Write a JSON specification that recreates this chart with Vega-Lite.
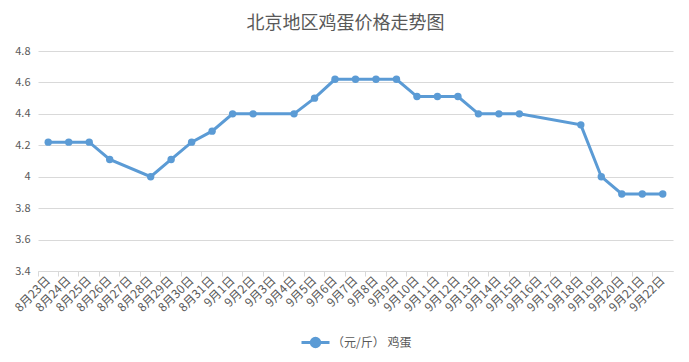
{
  "$schema": "https://vega.github.io/schema/vega-lite/v6.json",
  "width": 635,
  "height": 220,
  "autosize": {"type": "none"},
  "padding": {"left": 38, "top": 51, "right": 16, "bottom": 91},
  "background": "#ffffff",
  "config": {
    "view": {"stroke": null},
    "font": "Noto Sans CJK SC",
    "axis": {"labelColor": "#595959", "labelFont": "Noto Sans CJK SC", "labelFontSize": 11},
    "legend": {
      "labelColor": "#595959",
      "labelFont": "Noto Sans CJK SC",
      "labelFontSize": 12,
      "layout": {"bottom": {"anchor": "middle"}}
    }
  },
  "title": {
    "text": "北京地区鸡蛋价格走势图",
    "fontSize": 18,
    "fontWeight": "normal",
    "color": "#595959",
    "font": "Noto Sans CJK SC",
    "offset": 12,
    "dx": -10
  },
  "data": {
    "values": [
      {"date": "8月23日", "price": 4.22, "series": "（元/斤） 鸡蛋"},
      {"date": "8月24日", "price": 4.22, "series": "（元/斤） 鸡蛋"},
      {"date": "8月25日", "price": 4.22, "series": "（元/斤） 鸡蛋"},
      {"date": "8月26日", "price": 4.11, "series": "（元/斤） 鸡蛋"},
      {"date": "8月28日", "price": 4.00, "series": "（元/斤） 鸡蛋"},
      {"date": "8月29日", "price": 4.11, "series": "（元/斤） 鸡蛋"},
      {"date": "8月30日", "price": 4.22, "series": "（元/斤） 鸡蛋"},
      {"date": "8月31日", "price": 4.29, "series": "（元/斤） 鸡蛋"},
      {"date": "9月1日", "price": 4.40, "series": "（元/斤） 鸡蛋"},
      {"date": "9月2日", "price": 4.40, "series": "（元/斤） 鸡蛋"},
      {"date": "9月4日", "price": 4.40, "series": "（元/斤） 鸡蛋"},
      {"date": "9月5日", "price": 4.50, "series": "（元/斤） 鸡蛋"},
      {"date": "9月6日", "price": 4.62, "series": "（元/斤） 鸡蛋"},
      {"date": "9月7日", "price": 4.62, "series": "（元/斤） 鸡蛋"},
      {"date": "9月8日", "price": 4.62, "series": "（元/斤） 鸡蛋"},
      {"date": "9月9日", "price": 4.62, "series": "（元/斤） 鸡蛋"},
      {"date": "9月10日", "price": 4.51, "series": "（元/斤） 鸡蛋"},
      {"date": "9月11日", "price": 4.51, "series": "（元/斤） 鸡蛋"},
      {"date": "9月12日", "price": 4.51, "series": "（元/斤） 鸡蛋"},
      {"date": "9月13日", "price": 4.40, "series": "（元/斤） 鸡蛋"},
      {"date": "9月14日", "price": 4.40, "series": "（元/斤） 鸡蛋"},
      {"date": "9月15日", "price": 4.40, "series": "（元/斤） 鸡蛋"},
      {"date": "9月18日", "price": 4.33, "series": "（元/斤） 鸡蛋"},
      {"date": "9月19日", "price": 4.00, "series": "（元/斤） 鸡蛋"},
      {"date": "9月20日", "price": 3.89, "series": "（元/斤） 鸡蛋"},
      {"date": "9月21日", "price": 3.89, "series": "（元/斤） 鸡蛋"},
      {"date": "9月22日", "price": 3.89, "series": "（元/斤） 鸡蛋"}
    ]
  },
  "mark": {
    "type": "line",
    "strokeWidth": 3,
    "point": {"filled": true, "size": 55, "color": "#5B9BD5"}
  },
  "encoding": {
    "x": {
      "field": "date",
      "type": "ordinal",
      "sort": null,
      "scale": {
        "type": "band",
        "paddingInner": 0,
        "paddingOuter": 0,
        "domain": ["8月23日","8月24日","8月25日","8月26日","8月27日","8月28日","8月29日","8月30日","8月31日","9月1日","9月2日","9月3日","9月4日","9月5日","9月6日","9月7日","9月8日","9月9日","9月10日","9月11日","9月12日","9月13日","9月14日","9月15日","9月16日","9月17日","9月18日","9月19日","9月20日","9月21日","9月22日"]
      },
      "axis": {
        "title": null,
        "labelAngle": -45,
        "labelAlign": "right",
        "labelBaseline": "middle",
        "labelPadding": 2,
        "labelFontSize": 12,
        "bandPosition": 0,
        "ticks": true,
        "tickColor": "#D9D9D9",
        "tickSize": 5,
        "domainColor": "#D9D9D9",
        "grid": false,
        "labelBound": false,
        "labelOverlap": false
      }
    },
    "y": {
      "field": "price",
      "type": "quantitative",
      "scale": {"domain": [3.4, 4.8], "nice": false, "zero": false},
      "axis": {
        "title": null,
        "values": [3.4, 3.6, 3.8, 4.0, 4.2, 4.4, 4.6, 4.8],
        "labelExpr": "format(datum.value, '.1~f')",
        "domain": false,
        "ticks": false,
        "gridColor": "#D9D9D9",
        "labelPadding": 8
      }
    },
    "color": {
      "field": "series",
      "type": "nominal",
      "scale": {"range": ["#5B9BD5"]},
      "legend": {
        "title": null,
        "orient": "bottom",
        "direction": "horizontal",
        "offset": 13,
        "labelOffset": 1,
        "symbolType": "M-1,0L1,0M-0.3,0A0.3,0.3 0 1,1 0.3,0A0.3,0.3 0 1,1 -0.3,0Z",
        "symbolSize": 784,
        "symbolStrokeWidth": 3,
        "symbolFillColor": "#5B9BD5",
        "symbolStrokeColor": "#5B9BD5"
      }
    }
  }
}
